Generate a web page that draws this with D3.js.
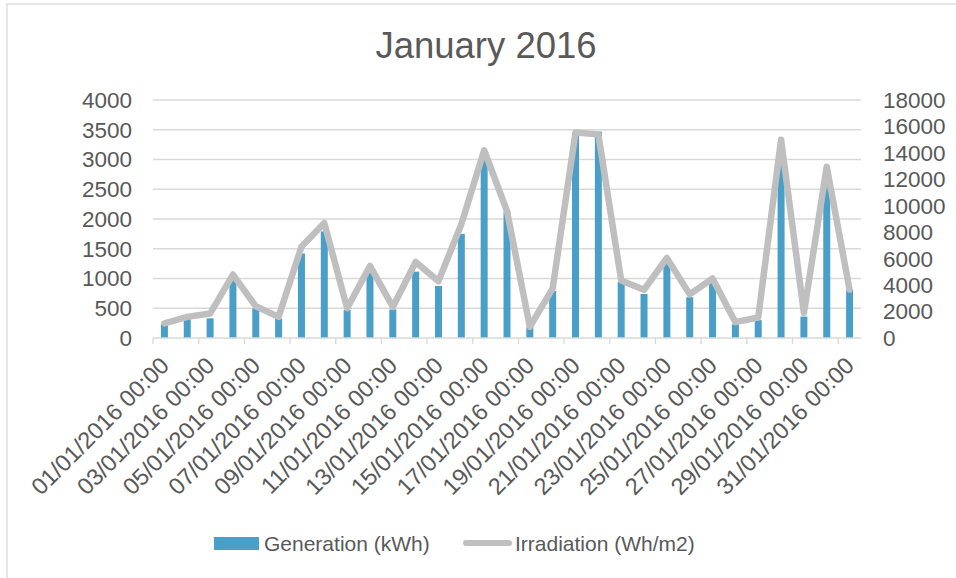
<!DOCTYPE html>
<html>
<head>
<meta charset="utf-8">
<script src="https://cdn.jsdelivr.net/npm/d3@7"></script>
<style>
  body { margin: 0; background: #fff; }
  text { font-family: "Liberation Sans", Arial, sans-serif; fill: #595959; }
</style>
</head>
<body>
<div id="chart"></div>
<script>
// data
const dates = [
  '01/01/2016 00:00', '02/01/2016 00:00', '03/01/2016 00:00', '04/01/2016 00:00',
  '05/01/2016 00:00', '06/01/2016 00:00', '07/01/2016 00:00', '08/01/2016 00:00',
  '09/01/2016 00:00', '10/01/2016 00:00', '11/01/2016 00:00', '12/01/2016 00:00',
  '13/01/2016 00:00', '14/01/2016 00:00', '15/01/2016 00:00', '16/01/2016 00:00',
  '17/01/2016 00:00', '18/01/2016 00:00', '19/01/2016 00:00', '20/01/2016 00:00',
  '21/01/2016 00:00', '22/01/2016 00:00', '23/01/2016 00:00', '24/01/2016 00:00',
  '25/01/2016 00:00', '26/01/2016 00:00', '27/01/2016 00:00', '28/01/2016 00:00',
  '29/01/2016 00:00', '30/01/2016 00:00', '31/01/2016 00:00'
];
const generation = [230, 315, 330, 1000, 500, 325, 1420, 1790, 470, 1115,
  480, 1115, 875, 1750, 3020, 2125, 180, 790, 3450, 3470,
  945, 740, 1265, 685, 930, 230, 300, 3050, 360, 2650, 810];
const irradiation = [1100, 1600, 1850, 4800, 2400, 1600, 6900, 8700, 2250, 5450,
  2350, 5750, 4300, 8600, 14200, 9600, 850, 3750, 15550, 15400,
  4350, 3650, 6050, 3300, 4500, 1200, 1550, 15000, 1900, 12950, 3650];
const genTicks = [0, 500, 1000, 1500, 2000, 2500, 3000, 3500, 4000];
const irrTicks = [0, 2000, 4000, 6000, 8000, 10000, 12000, 14000, 16000, 18000];

const width = 956;
const height = 578;
const plot = { left: 153, right: 861, top: 100, bottom: 338 };

const svg = d3.select('#chart')
  .append('svg')
  .attr('width', width)
  .attr('height', height);

// chart border
svg.append('rect')
  .attr('x', 7).attr('y', 4)
  .attr('width', 960).attr('height', 600)
  .attr('fill', 'none')
  .attr('stroke', '#d9d9d9')
  .attr('stroke-width', 1.3);

// title
svg.append('text')
  .attr('x', 486).attr('y', 58)
  .attr('text-anchor', 'middle')
  .style('font-size', '36.5px')
  .text('January 2016');

// scales
const x = d3.scaleBand()
  .domain(dates)
  .range([plot.left, plot.right])
  .paddingInner(0.6935)
  .paddingOuter(0.6935 / 2);
const step = x.step();
const center = (d) => x(d) + x.bandwidth() / 2;

const yGen = d3.scaleLinear().domain([0, 4000]).range([plot.bottom, plot.top]);
const yIrr = d3.scaleLinear().domain([0, 18000]).range([plot.bottom, plot.top]);

// gridlines
svg.append('g')
  .selectAll('line')
  .data(genTicks.slice(1))
  .join('line')
  .attr('x1', plot.left).attr('x2', plot.right)
  .attr('y1', (d) => yGen(d)).attr('y2', (d) => yGen(d))
  .attr('stroke', '#d9d9d9')
  .attr('stroke-width', 1.3);

// left axis labels
svg.append('g')
  .selectAll('text')
  .data(genTicks)
  .join('text')
  .attr('x', 132)
  .attr('y', (d) => yGen(d))
  .attr('dy', '0.35em')
  .attr('text-anchor', 'end')
  .style('font-size', '22.5px')
  .text((d) => d);

// right axis labels
svg.append('g')
  .selectAll('text')
  .data(irrTicks)
  .join('text')
  .attr('x', 883)
  .attr('y', (d) => yIrr(d))
  .attr('dy', '0.35em')
  .style('font-size', '22.5px')
  .text((d) => d);

// bars
svg.append('g')
  .selectAll('rect')
  .data(generation)
  .join('rect')
  .attr('x', (d, i) => x(dates[i]))
  .attr('y', (d) => yGen(d))
  .attr('width', x.bandwidth())
  .attr('height', (d) => yGen(0) - yGen(d))
  .attr('fill', '#4a9fc8');

// x axis line and ticks every 2 categories
const xAxis = svg.append('g');
xAxis.append('line')
  .attr('x1', plot.left).attr('x2', plot.right)
  .attr('y1', plot.bottom).attr('y2', plot.bottom)
  .attr('stroke', '#d9d9d9')
  .attr('stroke-width', 1.3);
const tickDates = dates.filter((d, i) => i % 2 === 0);
xAxis.selectAll('.tick')
  .data(tickDates)
  .join('line')
  .attr('class', 'tick')
  .attr('x1', (d) => x(d) - (step - x.bandwidth()) / 2)
  .attr('x2', (d) => x(d) - (step - x.bandwidth()) / 2)
  .attr('y1', plot.bottom).attr('y2', plot.bottom + 6)
  .attr('stroke', '#d9d9d9')
  .attr('stroke-width', 1.3);
xAxis.selectAll('.xlabel')
  .data(tickDates)
  .join('text')
  .attr('class', 'xlabel')
  .attr('text-anchor', 'end')
  .attr('transform', (d) => 'translate(' + (center(d) + 6) + ',' + 367 + ') rotate(-45)')
  .style('font-size', '23.5px')
  .text((d) => d);

// irradiation line
const line = d3.line()
  .x((d, i) => center(dates[i]))
  .y((d) => yIrr(d));
svg.append('path')
  .datum(irradiation)
  .attr('d', line)
  .attr('fill', 'none')
  .attr('stroke', '#bfbfbf')
  .attr('stroke-width', 6.5)
  .attr('stroke-linejoin', 'round')
  .attr('stroke-linecap', 'round');

// legend
const legend = svg.append('g');
legend.append('rect')
  .attr('x', 214).attr('y', 537)
  .attr('width', 45).attr('height', 13)
  .attr('fill', '#4a9fc8');
legend.append('text')
  .attr('x', 264).attr('y', 551)
  .style('font-size', '21px')
  .text('Generation (kWh)');
legend.append('line')
  .attr('x1', 466).attr('x2', 509)
  .attr('y1', 543).attr('y2', 543)
  .attr('stroke', '#bfbfbf')
  .attr('stroke-width', 6)
  .attr('stroke-linecap', 'round');
legend.append('text')
  .attr('x', 515).attr('y', 551)
  .style('font-size', '21px')
  .text('Irradiation (Wh/m2)');
</script>
</body>
</html>
